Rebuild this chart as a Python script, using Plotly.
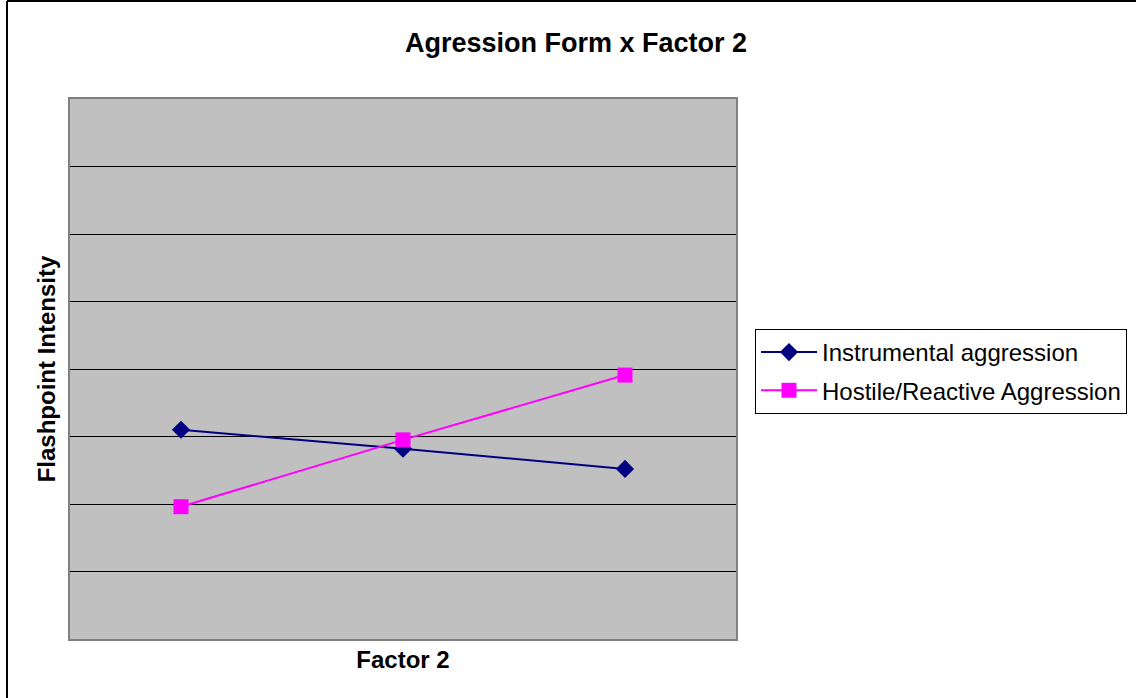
import plotly.graph_objects as go

categories = ["Level 1", "Level 2", "Level 3"]
instrumental = [3.10, 2.82, 2.52]
hostile = [1.96, 2.95, 3.91]
series_names = ["Instrumental aggression", "Hostile/Reactive Aggression"]

W, H = 1136, 698
L, R, T, B = 70, 400, 99, 59
PW, PH = W - L - R, H - T - B

fig = go.Figure()
fig.add_trace(go.Scatter(x=categories, y=instrumental, name=series_names[0], mode="lines+markers",
                         legendgroup="a",
                         line=dict(color="#000080", width=2),
                         marker=dict(symbol="diamond", size=14, color="#000080")))
fig.add_trace(go.Scatter(x=categories, y=hostile, name=series_names[1], mode="lines+markers",
                         legendgroup="b",
                         line=dict(color="#FF00FF", width=2),
                         marker=dict(symbol="square", size=15, color="#FF00FF")))

font = "Liberation Sans, Arial, sans-serif"
fig.update_layout(
    width=W, height=H,
    margin=dict(l=L, r=R, t=T, b=B, autoexpand=False),
    paper_bgcolor="white", plot_bgcolor="#C0C0C0",
    font=dict(family=font, color="black"),
    title=dict(text="<b>Agression Form x Factor 2</b>", x=576 / W, xanchor="center",
               y=1 - 43 / H, yanchor="middle", font=dict(size=27, family=font)),
    showlegend=True,
    legend=dict(x=(755 - L) / PW, xanchor="left", y=(H - B - 329) / PH, yanchor="top",
                bordercolor="black", borderwidth=1, bgcolor="white",
                font=dict(size=24, family=font), itemwidth=56, tracegroupgap=4),
    xaxis=dict(type="category", range=[-0.5, 2.5], showticklabels=False, showgrid=False,
               zeroline=False, showline=True, linecolor="#808080", linewidth=2, mirror=True,
               ticks="", title=dict(text="<b>Factor 2</b>", font=dict(size=24, family=font), standoff=11)),
    yaxis=dict(range=[0, 8], dtick=1, showticklabels=False, showgrid=True, gridcolor="black",
               gridwidth=1, zeroline=False, showline=True, linecolor="#808080", linewidth=2,
               mirror=True, ticks="",
               title=dict(text="<b>Flashpoint Intensity</b>", font=dict(size=24, family=font), standoff=6)),
)

# outer chart border (left and top edges visible)
fig.add_shape(type="line", xref="paper", yref="paper",
              x0=(7 - L) / PW, x1=(7 - L) / PW, y0=(H - B - 700) / PH, y1=(H - B - 1) / PH,
              line=dict(color="black", width=2))
fig.add_shape(type="line", xref="paper", yref="paper",
              x0=(7 - L) / PW, x1=(1140 - L) / PW, y0=(H - B - 1) / PH, y1=(H - B - 1) / PH,
              line=dict(color="black", width=2))

fig.write_html("out.html", config={"displayModeBar": False},
               post_script="document.body.style.margin='0';")
